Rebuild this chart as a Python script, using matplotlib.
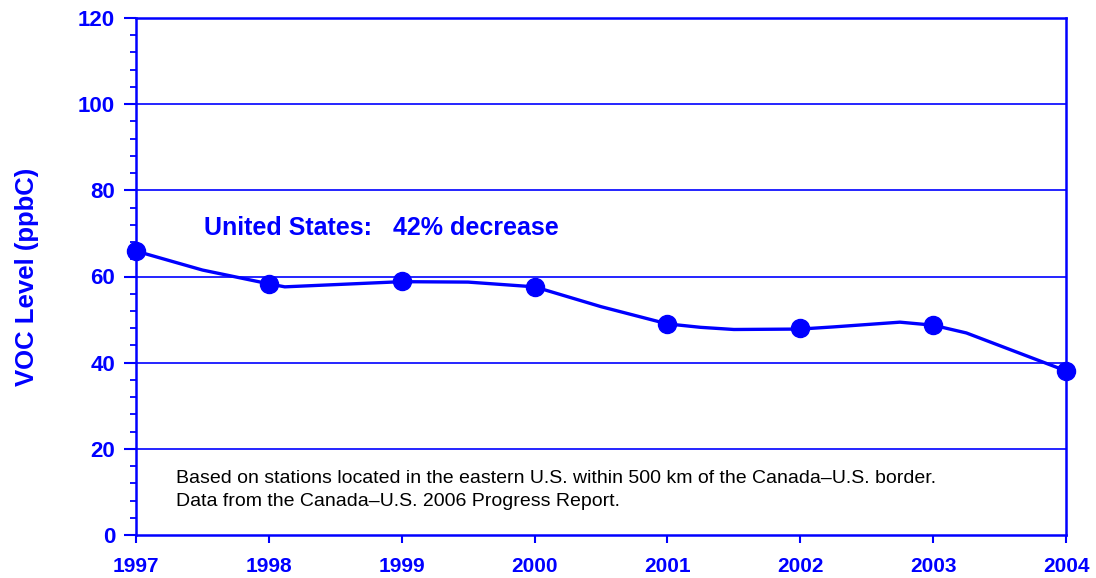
import matplotlib
matplotlib.use('Agg')
import matplotlib.pyplot as plt
from matplotlib.ticker import MultipleLocator

plt.rcParams['font.family'] = ['Liberation Sans', 'DejaVu Sans']

BLUE = '#0000FF'

# yearly values (markers)
years = [1997, 1998, 1999, 2000, 2001, 2002, 2003, 2004]
voc = [65.9, 58.3, 59.0, 57.6, 49.0, 48.0, 48.7, 38.1]

# line vertices
line_x = [1997, 1997.5, 1998, 1998.12, 1999, 1999.5, 2000, 2000.12, 2000.5,
          2001, 2001.25, 2001.5, 2002, 2002.25, 2002.75, 2003, 2003.25, 2004]
line_y = [65.9, 61.5, 58.3, 57.6, 58.8, 58.7, 57.6, 56.5, 53.0,
          49.0, 48.2, 47.7, 47.8, 48.3, 49.4, 48.7, 46.9, 38.1]

note_lines = ["Based on stations located in the eastern U.S. within 500 km of the Canada\u2013U.S. border.",
              "Data from the Canada\u2013U.S. 2006 Progress Report."]

fig = plt.figure(figsize=(10.96, 5.78), dpi=100)
ax = fig.add_axes([136 / 1096, 43 / 578, 930 / 1096, 517 / 578])

ax.set_xlim(1997, 2004)
ax.set_ylim(0, 120)

for v in range(20, 121, 20):
    ax.axhline(v, color=BLUE, lw=1.2, zorder=1)

ax.plot(line_x, line_y, color=BLUE, lw=2.4, zorder=3, clip_on=False)
ax.plot(years, voc, 'o', color=BLUE, ms=13, zorder=4, clip_on=False)

for s in ax.spines.values():
    s.set_color(BLUE)
    s.set_linewidth(1.8)

ax.set_xticks(years)
ax.set_xticklabels([str(y) for y in years])
ax.yaxis.set_major_locator(MultipleLocator(20))
ax.yaxis.set_minor_locator(MultipleLocator(4))
ax.tick_params(axis='both', which='major', colors=BLUE, width=1.5)
ax.tick_params(axis='y', which='major', length=9, pad=6, labelsize=16)
ax.tick_params(axis='x', which='major', length=6, pad=10, labelsize=15)
ax.tick_params(axis='y', which='minor', colors=BLUE, length=4, width=1.3)
for lab in ax.get_xticklabels() + ax.get_yticklabels():
    lab.set_fontweight('bold')

ax.set_ylabel('VOC Level (ppbC)', color=BLUE, fontsize=18.5, fontweight='bold')
ax.yaxis.set_label_coords(-0.104, 0.5)

ax.text(1997.51, 71.2, 'United States:   42% decrease', color=BLUE, fontsize=18,
        fontweight='bold', va='center', ha='left')
ax.text(1997.3, 13.2, note_lines[0], fontsize=14, color='black', va='center', ha='left')
ax.text(1997.3, 7.7, note_lines[1], fontsize=14, color='black', va='center', ha='left')

fig.savefig('out.png', dpi=100)
